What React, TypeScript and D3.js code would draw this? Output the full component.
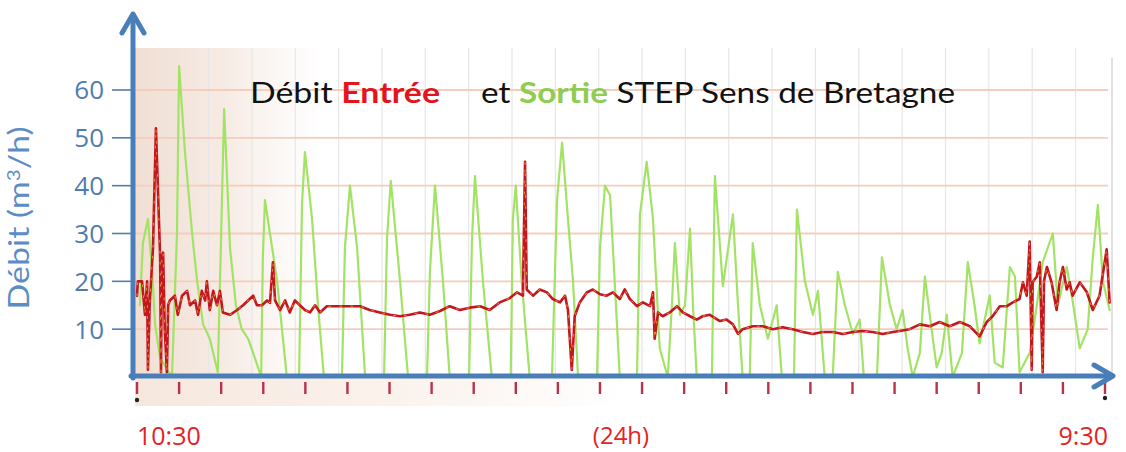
import React from "react";
import * as d3 from "d3";

// ---- data ----
const yTicks = [10, 20, 30, 40, 50, 60];
const hourTicks = [0, 1, 2, 3, 4, 5, 6, 7, 8, 9, 10, 11, 12, 13, 14, 15, 16, 17, 18, 19, 20, 21, 22, 23];
const startLabel = "10:30";
const endLabel = "9:30";
const durationLabel = "(24h)";
const titleParts = ["Débit ", "Entrée", "et ", "Sortie", " STEP Sens de Bretagne"];

// hours after 10:30, m3/h
const entree: [number, number][] = [
  [0, 17], [0.02, 20], [0.12, 20], [0.19, 13], [0.24, 20], [0.26, 1.5], [0.3, 15], [0.38, 27], [0.45, 52],
  [0.55, 25], [0.57, 1], [0.59, 25], [0.62, 26], [0.66, 10], [0.71, 1], [0.74, 15], [0.78, 16], [0.9, 17],
  [0.97, 13], [1.07, 17], [1.19, 18], [1.26, 15], [1.38, 16], [1.45, 13], [1.54, 18], [1.62, 16], [1.66, 20],
  [1.73, 14], [1.81, 18], [1.9, 15], [1.97, 18], [2.04, 13.5], [2.21, 13], [2.38, 14], [2.52, 15], [2.64, 16],
  [2.76, 17], [2.85, 15], [2.97, 15], [3.09, 16], [3.16, 15.5], [3.23, 24], [3.28, 16], [3.4, 14], [3.52, 16],
  [3.63, 13.5], [3.75, 16], [3.87, 15], [3.99, 14], [4.11, 13.5], [4.23, 15], [4.35, 13.5], [4.51, 14.8],
  [4.82, 14.8], [5.06, 14.8], [5.3, 14.8], [5.53, 14], [5.77, 13.5], [6.01, 13], [6.25, 12.7], [6.48, 13],
  [6.72, 13.5], [6.96, 13], [7.2, 13.8], [7.43, 14.8], [7.67, 14], [7.91, 14.5], [8.15, 14.8], [8.38, 14],
  [8.62, 15.6], [8.86, 16.5], [9.03, 17.7], [9.17, 17], [9.22, 45], [9.26, 18.3], [9.41, 17], [9.57, 18.3],
  [9.74, 17.7], [9.88, 16.3], [10.05, 15.6], [10.17, 17], [10.24, 14], [10.33, 1.5], [10.4, 12.7], [10.52, 15.6],
  [10.69, 17.7], [10.83, 18.3], [11.0, 17.3], [11.16, 17], [11.31, 17.7], [11.47, 16.3], [11.59, 18.3],
  [11.71, 16.3], [11.88, 14.8], [12.02, 15.6], [12.19, 14.8], [12.26, 17.7], [12.3, 8], [12.38, 13.5],
  [12.49, 12.7], [12.66, 13.5], [12.83, 14.8], [12.97, 13.5], [13.14, 12.7], [13.3, 12], [13.44, 12.7],
  [13.61, 13], [13.85, 11.7], [14.01, 12], [14.16, 11], [14.28, 9], [14.39, 10], [14.63, 10.6], [14.87, 10.6],
  [15.11, 10], [15.34, 10.4], [15.58, 10], [15.82, 9.4], [16.06, 9], [16.29, 9.4], [16.53, 9.4], [16.77, 9],
  [17.01, 9.4], [17.24, 9.6], [17.48, 9.4], [17.72, 9], [17.96, 9.4], [18.12, 9.6], [18.36, 10], [18.6, 11],
  [18.84, 10.6], [19.07, 11.5], [19.31, 10.6], [19.55, 11.5], [19.79, 10.6], [20.02, 8.5], [20.19, 11.5],
  [20.33, 12.7], [20.5, 14.8], [20.67, 14.8], [20.81, 15.6], [20.97, 16.3], [21.05, 19.8], [21.14, 17],
  [21.21, 28.3], [21.26, 1.5], [21.28, 19.8], [21.38, 21], [21.45, 24], [21.52, 1], [21.55, 20], [21.62, 23],
  [21.73, 19.8], [21.85, 14], [21.92, 19.8], [22.0, 23], [22.09, 18.3], [22.16, 19.8], [22.23, 17],
  [22.4, 19.8], [22.57, 17.7], [22.71, 14], [22.87, 17], [23.04, 26.7], [23.11, 15.6],
];

const sortie: [number, number][] = [
  [0.07, 15], [0.14, 28], [0.26, 33], [0.36, 22], [0.43, 11], [0.55, 4], [0.83, 0], [0.95, 30], [1.0, 65],
  [1.14, 47], [1.31, 30], [1.43, 20], [1.57, 11], [1.73, 8], [1.92, 1], [2.0, 30], [2.07, 56], [2.21, 27],
  [2.35, 15], [2.49, 10], [2.64, 8], [2.8, 4], [2.95, 0], [2.99, 25], [3.04, 37], [3.16, 30], [3.33, 20],
  [3.56, 0], [3.85, 0], [3.92, 36], [3.99, 47], [4.16, 33], [4.3, 15], [4.44, 0], [4.87, 0], [4.94, 27],
  [5.06, 40], [5.23, 27], [5.42, 0], [5.87, 0], [5.94, 29], [6.03, 41], [6.25, 20], [6.44, 0], [6.89, 0],
  [6.96, 22], [7.08, 40], [7.27, 20], [7.43, 0], [7.89, 0], [7.96, 29], [8.03, 42], [8.22, 20], [8.43, 0],
  [8.88, 0], [8.93, 33], [9.0, 40], [9.14, 20], [9.33, 0], [9.86, 0], [9.98, 37], [10.1, 49], [10.24, 33],
  [10.36, 20], [10.48, 0], [10.93, 0], [11.0, 27], [11.12, 40], [11.24, 38], [11.35, 20], [11.47, 0],
  [11.88, 0], [11.95, 34], [12.11, 45], [12.26, 33], [12.42, 6], [12.61, 0], [12.71, 15], [12.78, 28],
  [12.9, 13], [13.02, 15], [13.14, 31], [13.21, 15], [13.3, 0], [13.66, 0], [13.73, 42], [13.92, 19],
  [14.16, 34], [14.28, 15], [14.39, 0], [14.56, 0], [14.63, 28], [14.8, 15], [14.99, 8], [15.2, 15],
  [15.32, 0], [15.61, 0], [15.68, 35], [15.87, 20], [16.06, 13], [16.18, 18], [16.34, 0], [16.53, 0],
  [16.65, 22], [16.82, 15], [17.01, 9], [17.17, 12], [17.27, 0], [17.58, 0], [17.7, 25], [17.89, 15],
  [18.05, 10], [18.19, 14], [18.31, 6], [18.43, 0], [18.6, 5], [18.72, 21], [18.88, 10], [19.0, 2],
  [19.12, 5], [19.24, 13], [19.38, 0], [19.6, 5], [19.74, 24], [19.9, 15], [20.02, 7], [20.26, 17],
  [20.38, 3], [20.57, 2], [20.74, 23], [20.86, 21], [20.97, 1], [21.21, 5], [21.38, 15], [21.52, 24],
  [21.76, 30], [21.88, 15], [22.09, 23], [22.23, 16], [22.4, 6], [22.59, 10], [22.71, 25], [22.83, 36],
  [22.95, 20], [23.11, 14],
];

export default function App() {
  const W = 1126;
  const H = 452;
  const x = d3.scaleLinear().domain([0, 23]).range([137, 1105]);
  const y = d3.scaleLinear().domain([0, 60]).range([377, 90]);
  const line = d3
    .line<[number, number]>()
    .x((d) => x(d[0]))
    .y((d) => y(d[1]));

  const paperLeft = 135;
  const paperRight = 1112;
  const paperTop = 48;
  const paperBottom = 406;
  const paperGrid = d3.range(0.67, 23.1, 1.03);

  const axisColor = "#4a7ebb";
  const font = "Lato, 'Open Sans', sans-serif";
  const tickFont = "'Open Sans', Lato, sans-serif";

  return (
    <svg
      width={W}
      height={H}
      viewBox={`0 0 ${W} ${H}`}
      style={{ position: "absolute", left: 0, top: 0, background: "#fff" }}
    >
      <defs>
        <linearGradient id="paper" x1="0" x2="1" y1="0" y2="0">
          <stop offset="0" stopColor="#f1dfd4" />
          <stop offset="0.09" stopColor="#f6ebe4" />
          <stop offset="0.14" stopColor="#fbf6f3" />
          <stop offset="0.19" stopColor="#ffffff" />
        </linearGradient>
        <linearGradient id="strip" x1="0" x2="1" y1="0" y2="0">
          <stop offset="0" stopColor="#f6e7dd" />
          <stop offset="0.3" stopColor="#fbf4ef" />
          <stop offset="0.5" stopColor="#ffffff" />
        </linearGradient>
        <clipPath id="plotClip">
          <rect x={paperLeft} y={paperTop} width={paperRight - paperLeft} height={y(0) - paperTop} />
        </clipPath>
      </defs>

      {/* paper */}
      <rect x={paperLeft} y={paperTop} width={paperRight - paperLeft} height={paperBottom - paperTop} fill="url(#paper)" />
      <rect x={paperLeft} y={y(0)} width={paperRight - paperLeft} height={paperBottom - y(0)} fill="url(#strip)" />
      <line x1={paperRight} x2={paperRight} y1={paperTop + 10} y2={y(0)} stroke="#d8d8d8" strokeWidth={1.5} />

      {/* paper grid */}
      {paperGrid.map((h, i) => (
        <line key={"v" + i} x1={x(h)} x2={x(h)} y1={paperTop} y2={y(0)} stroke="#e6e6ea" strokeWidth={1.2} />
      ))}
      {yTicks.map((v) => (
        <line key={"h" + v} x1={paperLeft} x2={paperRight - 4} y1={y(v)} y2={y(v)} stroke="#f4cdbc" strokeWidth={1.8} />
      ))}

      {/* series */}
      <g clipPath="url(#plotClip)" fill="none" strokeLinejoin="round" strokeLinecap="round">
        <path d={line(sortie) ?? ""} stroke="#a2e366" strokeWidth={2.2} />
        <path d={line(entree) ?? ""} stroke="#c4161e" strokeWidth={2.6} />
        <path d={line(entree) ?? ""} stroke="#f0c040" strokeWidth={1} strokeDasharray="2 9" opacity={0.7} />
      </g>

      {/* x ticks (hour marks) */}
      {hourTicks.map((h) => (
        <line key={"t" + h} x1={x(h)} x2={x(h)} y1={382} y2={394} stroke="#b8324a" strokeWidth={2.4} />
      ))}
      <circle cx={x(hourTicks[0])} cy={400} r={2.2} fill="#222" />
      <circle cx={x(hourTicks[hourTicks.length - 1])} cy={398} r={2.2} fill="#222" />

      {/* y ticks */}
      {yTicks.map((v) => (
        <g key={"y" + v}>
          <line x1={112} x2={131} y1={y(v)} y2={y(v)} stroke="#5a7aa6" strokeWidth={1.6} />
          <text x={104} y={y(v)} dy="0.36em" textAnchor="end" fontFamily={tickFont} fontSize={26} fill="#4f7cae">
            {v}
          </text>
        </g>
      ))}

      {/* axes */}
      <g stroke={axisColor} strokeWidth={5} fill="none" strokeLinecap="round" strokeLinejoin="round">
        <line x1={133} x2={133} y1={y(0) + 1} y2={15} />
        <polyline points="122,33 133,14 144,33" />
        <line x1={131} x2={1112} y1={y(0) - 1} y2={y(0) - 1} />
        <polyline points="1094,365 1113,376 1094,387" />
      </g>

      {/* y axis title */}
      <text
        transform={`translate(29, 218) rotate(-90)`}
        textAnchor="middle"
        fontFamily={font}
        fontSize={28}
        fill="#5b8cc6"
        textLength={183}
        lengthAdjust="spacingAndGlyphs"
      >
        Débit (m<tspan dy="-9" fontSize={17}>3</tspan><tspan dy="9">/h)</tspan>
      </text>

      {/* title */}
      <text x={250} y={103} fontFamily={font} fontSize={29} fill="#111" textLength={190} lengthAdjust="spacingAndGlyphs">
        {titleParts[0]}
        <tspan fill="#e3141b" fontWeight="bold">{titleParts[1]}</tspan>
      </text>
      <text x={481} y={103} fontFamily={font} fontSize={29} fill="#111" textLength={474} lengthAdjust="spacingAndGlyphs">
        {titleParts[2]}
        <tspan fill="#8fcc52" fontWeight="bold">{titleParts[3]}</tspan>
        {titleParts[4]}
      </text>

      {/* bottom labels */}
      <text x={x(0)} y={445} fontFamily={tickFont} fontSize={25} fill="#e3231f">
        {startLabel}
      </text>
      <text x={621} y={444} textAnchor="middle" fontFamily={tickFont} fontSize={24} fill="#e3231f">
        {durationLabel}
      </text>
      <text x={x(23) + 3} y={445} textAnchor="end" fontFamily={tickFont} fontSize={25} fill="#e3231f">
        {endLabel}
      </text>
    </svg>
  );
}
